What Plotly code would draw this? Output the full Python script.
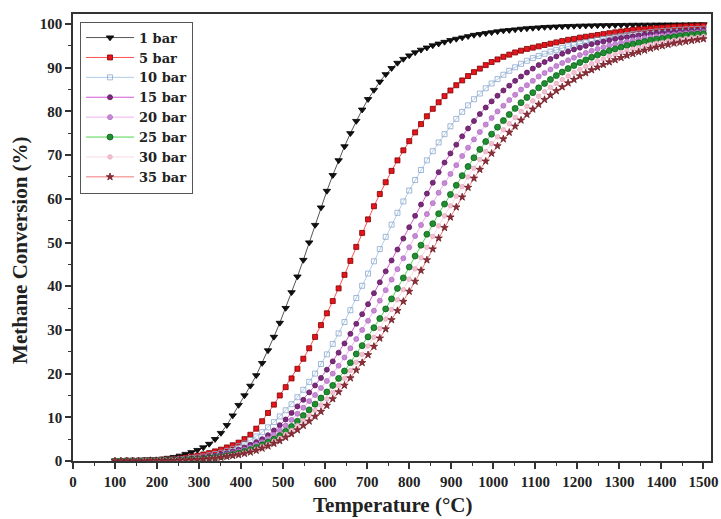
import plotly.graph_objects as go

temperature = [100, 114, 128, 142, 156, 170, 184, 198, 212, 226,
               240, 254, 268, 282, 296, 310, 324, 338, 352, 366,
               380, 394, 408, 422, 436, 450, 464, 478, 492, 506,
               520, 534, 548, 562, 576, 590, 604, 618, 632, 646,
               660, 674, 688, 702, 716, 730, 744, 758, 772, 786,
               800, 814, 828, 842, 856, 870, 884, 898, 912, 926,
               940, 954, 968, 982, 996, 1010, 1024, 1038, 1052, 1066,
               1080, 1094, 1108, 1122, 1136, 1150, 1164, 1178, 1192, 1206,
               1220, 1234, 1248, 1262, 1276, 1290, 1304, 1318, 1332, 1346,
               1360, 1374, 1388, 1402, 1416, 1430, 1444, 1458, 1472, 1486,
               1500]

conv_1bar = [0.1, 0.1, 0.1, 0.2, 0.2, 0.3, 0.3, 0.4, 0.5, 0.7,
             0.9, 1.2, 1.6, 2.0, 2.5, 3.1, 3.9, 5.0, 6.4, 8.2,
             10.4, 12.8, 15.0, 17.2, 19.6, 22.4, 25.3, 28.4, 31.6, 35.0,
             38.6, 42.2, 46.0, 50.0, 54.0, 58.0, 61.8, 65.4, 68.8, 72.0,
             75.0, 77.8, 80.4, 82.8, 84.9, 86.8, 88.5, 89.9, 91.1, 92.0,
             92.8, 93.5, 94.1, 94.6, 95.1, 95.5, 95.9, 96.3, 96.6, 96.9,
             97.2, 97.5, 97.7, 97.9, 98.1, 98.3, 98.5, 98.6, 98.75, 98.9,
             99.0, 99.1, 99.2, 99.3, 99.35, 99.4, 99.45, 99.5, 99.55, 99.6,
             99.62, 99.65, 99.67, 99.7, 99.72, 99.74, 99.76, 99.78, 99.8, 99.81,
             99.82, 99.83, 99.84, 99.85, 99.86, 99.87, 99.88, 99.89, 99.9, 99.9,
             99.91]

conv_5bar = [0.0, 0.0, 0.1, 0.1, 0.1, 0.1, 0.2, 0.2, 0.3, 0.4,
             0.5, 0.6, 0.8, 1.0, 1.2, 1.5, 1.8, 2.2, 2.6, 3.1,
             3.6, 4.2, 5.0, 6.0, 7.4, 9.1, 11.0, 12.9, 15.0, 16.9,
             18.9, 21.1, 23.4, 25.8, 28.4, 31.1, 33.8, 36.6, 39.5, 42.6,
             45.8, 49.0, 52.2, 55.3, 58.3, 61.1, 63.8, 66.4, 68.8, 71.1,
             73.2, 75.2, 77.1, 78.9, 80.6, 82.1, 83.5, 84.8, 86.0, 87.1,
             88.1, 89.0, 89.8, 90.6, 91.3, 91.9, 92.5, 93.0, 93.5, 93.9,
             94.3, 94.6, 94.9, 95.2, 95.5, 95.8, 96.1, 96.4, 96.6, 96.9,
             97.1, 97.3, 97.5, 97.7, 97.9, 98.1, 98.3, 98.5, 98.7, 98.8,
             98.9, 99.0, 99.1, 99.2, 99.3, 99.4, 99.45, 99.5, 99.55, 99.6,
             99.65]

conv_10bar = [0.0, 0.0, 0.0, 0.1, 0.1, 0.1, 0.1, 0.2, 0.2, 0.3,
              0.3, 0.4, 0.5, 0.7, 0.8, 1.0, 1.3, 1.6, 1.9, 2.3,
              2.8, 3.4, 4.0, 4.8, 5.6, 6.6, 7.7, 8.9, 10.2, 11.6,
              13.0, 14.6, 16.3, 18.1, 20.0, 22.2, 24.4, 26.8, 29.2, 31.8,
              34.5, 37.3, 40.1, 42.9, 45.7, 48.5, 51.3, 54.1, 56.8, 59.4,
              61.9, 64.3, 66.6, 68.8, 70.9, 72.9, 74.8, 76.6, 78.3, 79.9,
              81.4, 82.8, 84.1, 85.3, 86.4, 87.4, 88.4, 89.3, 90.1, 90.9,
              91.6, 92.2, 92.7, 93.2, 93.7, 94.1, 94.5, 94.9, 95.2, 95.5,
              95.8, 96.1, 96.4, 96.6, 96.9, 97.1, 97.3, 97.5, 97.7, 97.85,
              98.0, 98.15, 98.3, 98.4, 98.5, 98.6, 98.7, 98.8, 98.85, 98.9,
              98.95]

conv_15bar = [0.0, 0.0, 0.0, 0.0, 0.1, 0.1, 0.1, 0.1, 0.2, 0.2,
              0.3, 0.3, 0.4, 0.5, 0.6, 0.8, 1.0, 1.2, 1.5, 1.8,
              2.2, 2.6, 3.1, 3.7, 4.3, 5.0, 5.9, 7.0, 8.2, 9.5,
              11.0, 12.5, 14.0, 15.7, 17.3, 19.0, 20.9, 22.8, 24.8, 26.9,
              29.1, 31.4, 33.6, 35.9, 38.4, 40.9, 43.4, 45.9, 48.4, 50.9,
              53.5, 56.1, 58.7, 61.2, 63.7, 66.1, 68.3, 70.4, 72.4, 74.3,
              76.1, 77.8, 79.4, 80.9, 82.3, 83.6, 84.8, 85.9, 87.0, 88.0,
              88.9, 89.8, 90.6, 91.3, 92.0, 92.6, 93.2, 93.7, 94.2, 94.6,
              95.0, 95.4, 95.7, 96.0, 96.3, 96.6, 96.8, 97.0, 97.2, 97.4,
              97.6, 97.75, 97.9, 98.0, 98.1, 98.2, 98.3, 98.4, 98.45, 98.5,
              98.55]

conv_20bar = [0.0, 0.0, 0.0, 0.0, 0.1, 0.1, 0.1, 0.1, 0.2, 0.2,
              0.3, 0.3, 0.4, 0.5, 0.5, 0.6, 0.8, 1.0, 1.2, 1.5,
              1.8, 2.2, 2.6, 3.1, 3.7, 4.3, 5.1, 6.0, 7.0, 8.1,
              9.4, 10.8, 12.2, 13.7, 15.1, 16.7, 18.3, 20.0, 21.8, 23.7,
              25.8, 27.9, 30.0, 32.1, 34.4, 36.7, 39.1, 41.5, 43.9, 46.4,
              48.9, 51.5, 54.0, 56.5, 59.0, 61.4, 63.6, 65.7, 67.7, 69.8,
              71.7, 73.6, 75.3, 77.0, 78.5, 80.0, 81.3, 82.6, 83.8, 85.0,
              86.0, 87.0, 88.0, 88.8, 89.6, 90.4, 91.1, 91.7, 92.3, 92.9,
              93.4, 93.9, 94.3, 94.7, 95.1, 95.4, 95.7, 96.0, 96.3, 96.5,
              96.8, 97.0, 97.2, 97.3, 97.5, 97.6, 97.8, 97.9, 98.0, 98.1,
              98.2]

conv_25bar = [0.0, 0.0, 0.0, 0.0, 0.0, 0.1, 0.1, 0.1, 0.1, 0.2,
              0.2, 0.2, 0.3, 0.4, 0.4, 0.5, 0.7, 0.8, 1.0, 1.2,
              1.5, 1.8, 2.2, 2.6, 3.1, 3.7, 4.3, 5.0, 5.8, 6.8,
              7.9, 9.1, 10.4, 11.7, 13.0, 14.4, 15.8, 17.3, 18.9, 20.6,
              22.5, 24.5, 26.4, 28.4, 30.5, 32.6, 34.8, 37.1, 39.5, 41.9,
              44.4, 46.9, 49.4, 51.9, 54.3, 56.6, 58.8, 61.0, 63.1, 65.3,
              67.4, 69.4, 71.3, 73.1, 74.8, 76.4, 77.9, 79.3, 80.7, 82.0,
              83.2, 84.3, 85.4, 86.4, 87.3, 88.2, 89.0, 89.8, 90.5, 91.2,
              91.8, 92.4, 92.9, 93.4, 93.9, 94.3, 94.7, 95.1, 95.4, 95.7,
              96.0, 96.3, 96.5, 96.7, 96.9, 97.1, 97.3, 97.45, 97.6, 97.7,
              97.8]

conv_30bar = [0.0, 0.0, 0.0, 0.0, 0.0, 0.1, 0.1, 0.1, 0.1, 0.1,
              0.2, 0.2, 0.2, 0.3, 0.4, 0.4, 0.6, 0.7, 0.9, 1.1,
              1.3, 1.6, 1.9, 2.3, 2.7, 3.3, 3.8, 4.5, 5.2, 6.1,
              7.0, 8.1, 9.2, 10.4, 11.6, 12.8, 14.2, 15.7, 17.3, 18.9,
              20.7, 22.6, 24.4, 26.3, 28.3, 30.3, 32.5, 34.7, 36.9, 39.2,
              41.6, 44.0, 46.5, 48.9, 51.4, 53.8, 56.1, 58.4, 60.6, 62.8,
              65.0, 67.0, 69.0, 70.8, 72.6, 74.2, 75.8, 77.2, 78.6, 80.0,
              81.2, 82.4, 83.5, 84.5, 85.5, 86.4, 87.3, 88.1, 88.9, 89.6,
              90.3, 90.9, 91.5, 92.0, 92.6, 93.0, 93.5, 93.9, 94.3, 94.6,
              95.0, 95.3, 95.6, 95.8, 96.1, 96.3, 96.5, 96.7, 96.9, 97.0,
              97.2]

conv_35bar = [0.0, 0.0, 0.0, 0.0, 0.0, 0.0, 0.1, 0.1, 0.1, 0.1,
              0.1, 0.2, 0.2, 0.3, 0.3, 0.4, 0.5, 0.6, 0.8, 1.0,
              1.2, 1.4, 1.7, 2.0, 2.4, 2.9, 3.4, 4.0, 4.6, 5.4,
              6.2, 7.1, 8.1, 9.1, 10.2, 11.3, 12.7, 14.2, 15.8, 17.3,
              19.0, 20.8, 22.5, 24.3, 26.2, 28.1, 30.2, 32.3, 34.4, 36.5,
              38.8, 41.1, 43.6, 46.0, 48.5, 51.0, 53.4, 55.8, 58.1, 60.4,
              62.6, 64.7, 66.7, 68.6, 70.4, 72.1, 73.7, 75.2, 76.6, 78.0,
              79.3, 80.5, 81.6, 82.7, 83.7, 84.7, 85.6, 86.5, 87.3, 88.1,
              88.8, 89.5, 90.1, 90.7, 91.3, 91.8, 92.3, 92.8, 93.2, 93.6,
              94.0, 94.4, 94.7, 95.0, 95.3, 95.6, 95.8, 96.0, 96.2, 96.4,
              96.6]

series_names = ["1 bar", "5 bar", "10 bar", "15 bar", "20 bar", "25 bar", "30 bar", "35 bar"]
series_values = [conv_1bar, conv_5bar, conv_10bar, conv_15bar,
                 conv_20bar, conv_25bar, conv_30bar, conv_35bar]

x_title = "Temperature (°C)"
y_title = "Methane Conversion (%)"

for s in series_values:
    if len(s) != len(temperature):
        raise ValueError(f"length mismatch {len(s)}")

styles = [
    dict(symbol="triangle-down", size=6.5, color="#111111", lc="#555555", mline="#000000"),
    dict(symbol="square", size=5, color="#e8141c", lc="#ff5050", mline="#7a0000"),
    dict(symbol="square-open", size=5, color="#8aa6cc", lc="#b0cde8", mline="#8aa6cc"),
    dict(symbol="circle", size=5, color="#7d2a7d", lc="#d45ad4", mline="#5a1a5a"),
    dict(symbol="circle", size=5, color="#c889d6", lc="#f0b2f0", mline="#b070c0"),
    dict(symbol="circle", size=6, color="#1f8f2f", lc="#50d850", mline="#0f5f1f"),
    dict(symbol="circle", size=4.5, color="#f2c2d2", lc="#f8dbe4", mline="#e8a8bc"),
    dict(symbol="star", size=5.5, color="#8e2e38", lc="#f07878", mline="#6e1e28"),
]

font_family = "Liberation Serif, Times New Roman, serif"
legend_family = "DejaVu Serif, Liberation Serif, serif"

fig = go.Figure()
for name, vals, st in zip(series_names, series_values, styles):
    fig.add_trace(go.Scatter(
        x=temperature, y=vals, name=name, mode="lines+markers",
        line=dict(color=st["lc"], width=1),
        marker=dict(symbol=st["symbol"], size=st["size"], color=st["color"],
                    line=dict(color=st["mline"], width=0.8)),
    ))

axis_common = dict(
    showline=True, linecolor="#333333", linewidth=1.5, mirror=True,
    ticks="outside", ticklen=6, tickwidth=1.5, tickcolor="#333333",
    showgrid=False, zeroline=False, automargin=False,
    tickfont=dict(family=font_family, size=15, color="#222222", weight="bold"),
)

fig.update_layout(
    width=721, height=519,
    margin=dict(l=73, r=10, t=14, b=58),
    paper_bgcolor="white", plot_bgcolor="white",
    font=dict(family=font_family, color="#222222"),
    xaxis=dict(range=[0, 1518], tickmode="linear", tick0=0, dtick=100,
               minor=dict(ticks="outside", ticklen=3, dtick=50, tickcolor="#333333", tickwidth=1.2),
               **axis_common),
    yaxis=dict(range=[0, 102.3], tickmode="linear", tick0=0, dtick=10,
               minor=dict(ticks="outside", ticklen=3, dtick=5, tickcolor="#333333", tickwidth=1.2),
               **axis_common),
    legend=dict(x=0.011, y=0.983, xanchor="left", yanchor="top",
                bgcolor="white", bordercolor="#555555", borderwidth=1,
                font=dict(family=legend_family, size=13, color="#222222", weight="bold"),
                itemwidth=48, tracegroupgap=0),
    showlegend=True,
    annotations=[
        dict(text=x_title, xref="paper", yref="paper", x=0.5, y=0, yshift=-44,
             xanchor="center", yanchor="middle", showarrow=False,
             font=dict(family=font_family, size=21, color="#222222", weight="bold")),
        dict(text=y_title, xref="paper", yref="paper", x=0, y=0.47, xshift=-53,
             xanchor="center", yanchor="middle", showarrow=False, textangle=-90,
             font=dict(family=font_family, size=21, color="#222222", weight="bold")),
    ],
)

fig.write_html("out.html")
